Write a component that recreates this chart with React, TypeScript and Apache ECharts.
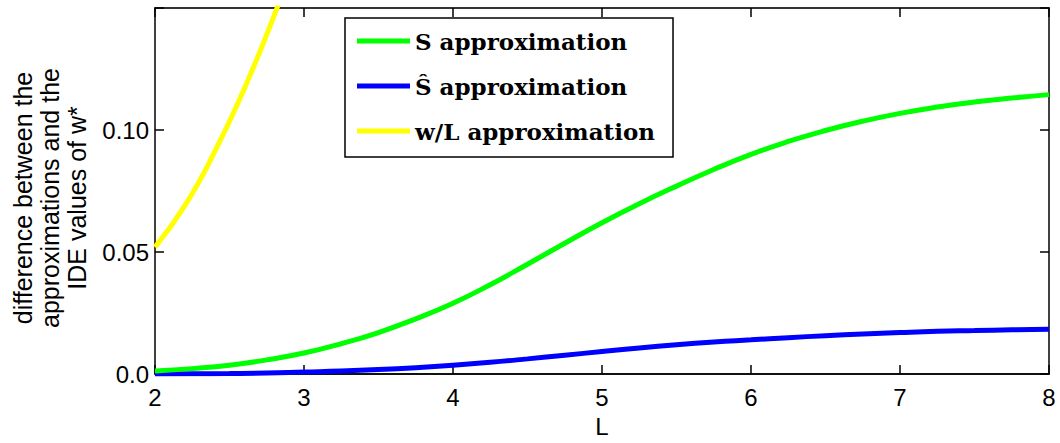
import React, { useEffect, useRef } from "react";
import * as echarts from "echarts";

const L_VALUES = [2, 2.25, 2.5, 2.75, 3, 3.25, 3.5, 3.75, 4, 4.25, 4.5, 4.75, 5, 5.25, 5.5, 5.75, 6, 6.25, 6.5, 6.75, 7, 7.25, 7.5, 7.75, 8];
const S_APPROX = [
  0.0012, 0.0022, 0.0036, 0.0058, 0.0086, 0.0124, 0.017, 0.0226, 0.029, 0.0366, 0.045, 0.0536,
  0.062, 0.0698, 0.077, 0.0838, 0.090, 0.0953, 0.0998, 0.1036, 0.1068, 0.1094, 0.1115, 0.1131, 0.1145,
];
const S_HAT_APPROX = [
  0.0, 0.0001, 0.0002, 0.0004, 0.0008, 0.0012, 0.0018, 0.0026, 0.0036, 0.0048, 0.0062, 0.0077,
  0.0092, 0.0107, 0.012, 0.0131, 0.014, 0.0149, 0.0157, 0.0164, 0.0170, 0.0175, 0.0178, 0.0181, 0.0183,
];
const WL_L_VALUES = [2, 2.2, 2.4, 2.6, 2.8, 3.0];
const WL_APPROX = [0.052, 0.069, 0.091, 0.117, 0.147, 0.18];

const X_TICKS = [2, 3, 4, 5, 6, 7, 8];
const Y_TICK_LABELS: Record<string, string> = { "0": "0.0", "0.05": "0.05", "0.1": "0.10", "0.15": "" };

const SERIES_NAMES = ["S approximation", "Ŝ approximation", "w/L approximation"];
const COLORS = ["#00ff00", "#0000ff", "#ffff00"];

function makeTick() {
  return { show: true, inside: true, length: 9, lineStyle: { color: "#000", width: 1.5 } };
}

export default function App() {
  const ref = useRef<HTMLDivElement>(null);
  useEffect(() => {
    if (!ref.current) return;
    const chart = echarts.init(ref.current, undefined, { renderer: "svg" });
    const sans = "Liberation Sans, Arial, sans-serif";
    const zip = (xs: number[], ys: number[]) => xs.map((x, i) => [x, ys[i]]);
    chart.setOption({
      animation: false,
      backgroundColor: "#fff",
      grid: { left: 155, right: 11, top: 8, bottom: 60, containLabel: false },
      xAxis: [
        {
          type: "value",
          min: 2,
          max: 8,
          interval: 1,
          position: "bottom",
          axisLine: { show: true, onZero: false, lineStyle: { color: "#111", width: 2 } },
          axisTick: makeTick(),
          axisLabel: {
            show: true,
            color: "#000",
            fontFamily: sans,
            fontSize: 24,
            margin: 11,
            formatter: (v: number) => (X_TICKS.includes(v) ? String(v) : ""),
          },
          splitLine: { show: false },
          name: "L",
          nameLocation: "middle",
          nameGap: 40,
          nameTextStyle: { color: "#000", fontFamily: sans, fontSize: 24 },
        },
        {
          type: "value",
          min: 2,
          max: 8,
          interval: 1,
          position: "top",
          axisLine: { show: true, onZero: false, lineStyle: { color: "#333", width: 2 } },
          axisTick: makeTick(),
          axisLabel: { show: false },
          splitLine: { show: false },
        },
      ],
      yAxis: [
        {
          type: "value",
          min: 0,
          max: 0.15,
          interval: 0.05,
          position: "left",
          axisLine: { show: true, onZero: false, lineStyle: { color: "#000", width: 1.5 } },
          axisTick: makeTick(),
          axisLabel: {
            show: true,
            color: "#000",
            fontFamily: sans,
            fontSize: 24,
            margin: 6,
            formatter: (v: number) => {
              const k = String(Math.round(v * 100) / 100);
              return Y_TICK_LABELS[k] ?? "";
            },
          },
          splitLine: { show: false },
        },
        {
          type: "value",
          min: 0,
          max: 0.15,
          interval: 0.05,
          position: "right",
          axisLine: { show: true, onZero: false, lineStyle: { color: "#000", width: 1.5 } },
          axisTick: makeTick(),
          axisLabel: { show: false },
          splitLine: { show: false },
        },
      ],
      legend: {
        orient: "vertical",
        left: 345,
        top: 18,
        padding: [10, 18, 13, 12],
        itemGap: 19,
        itemWidth: 53,
        itemHeight: 5,
        icon: "rect",
        borderColor: "#000",
        borderWidth: 1.5,
        backgroundColor: "#fff",
        data: SERIES_NAMES,
        textStyle: {
          color: "#000",
          fontFamily: "DejaVu Serif, serif",
          fontWeight: "bold",
          fontSize: 23,
          lineHeight: 26,
        },
      },
      series: [
        {
          name: SERIES_NAMES[0],
          type: "line",
          smooth: true,
          showSymbol: false,
          symbol: "none",
          data: zip(L_VALUES, S_APPROX),
          lineStyle: { color: COLORS[0], width: 5 },
          itemStyle: { color: COLORS[0] },
          z: 3,
        },
        {
          name: SERIES_NAMES[1],
          type: "line",
          smooth: true,
          showSymbol: false,
          symbol: "none",
          data: zip(L_VALUES, S_HAT_APPROX),
          lineStyle: { color: COLORS[1], width: 5 },
          itemStyle: { color: COLORS[1] },
          z: 2,
        },
        {
          name: SERIES_NAMES[2],
          type: "line",
          smooth: true,
          showSymbol: false,
          symbol: "none",
          clip: true,
          data: zip(WL_L_VALUES, WL_APPROX),
          lineStyle: { color: COLORS[2], width: 5 },
          itemStyle: { color: COLORS[2] },
          z: 4,
        },
      ],
      graphic: [
        {
          type: "text",
          x: 50,
          y: 198,
          rotation: Math.PI / 2,
          style: {
            text: "difference between the\napproximations and the\nIDE values of w*",
            fontFamily: sans,
            fontSize: 25,
            lineHeight: 27,
            fill: "#000",
            align: "center",
            verticalAlign: "middle",
          },
        },
      ],
    });
    return () => chart.dispose();
  }, []);
  return (
    <div
      ref={ref}
      style={{ position: "absolute", left: 0, top: 0, width: 1060, height: 443 }}
    />
  );
}
